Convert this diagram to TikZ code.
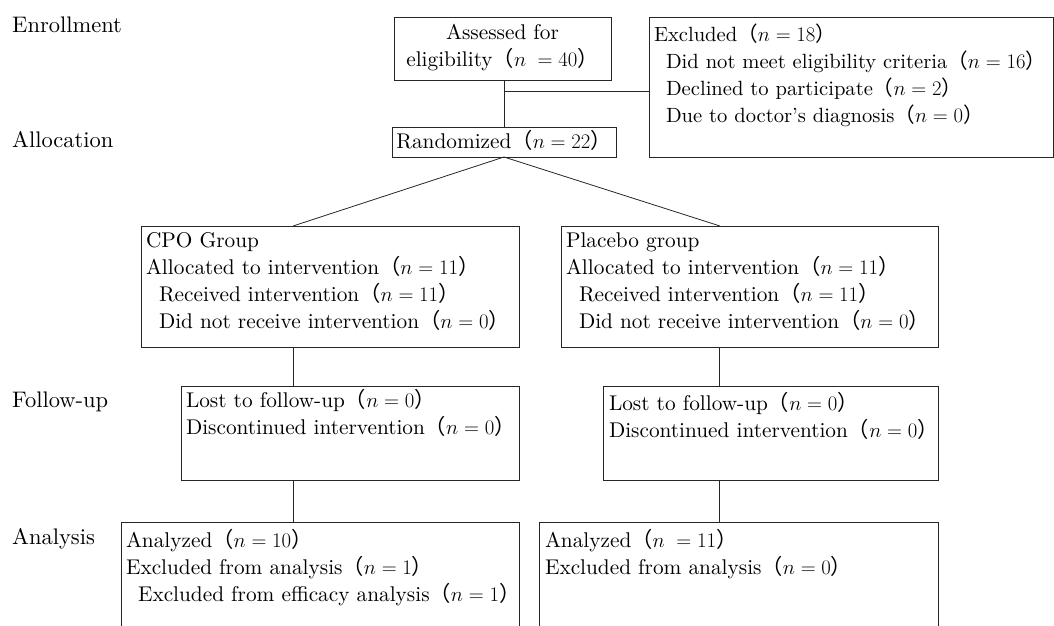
\documentclass[tikz,border=0pt]{standalone}
\usepackage{fontspec}
\setmainfont{lmroman10-regular}[Extension=.otf, ItalicFont=lmroman10-italic, BoldFont=lmroman10-bold]
\newfontfamily\cjk{Noto Sans CJK JP}
\newcommand{\lp}{{\cjk （}}
\newcommand{\rp}{{\cjk ）}}
\newcommand{\bx}[5]{\parbox[c][#2pt][t]{#1pt}{\fontsize{21.3}{27}\selectfont\raggedright\leftskip=#4pt\vspace*{#3pt}\strut #5}}
\newcommand{\ind}{\hspace*{13pt}}
\tikzset{
  frame/.style={draw=black!85, line width=0.8pt, inner sep=0pt, outer sep=0pt, anchor=north west},
  conn/.style={draw=black!85, line width=0.8pt},
  lab/.style={anchor=west, inner sep=0pt, font=\fontsize{22.5}{24}\selectfont}
}
\begin{document}
\begin{tikzpicture}[x=1pt,y=-1pt]
\useasboundingbox (0,0) rectangle (1054,625);
\clip (0,0) rectangle (1054,625);
% stage labels
\node[lab] (enr) at (12,25) {Enrollment};
\node[lab] (alc) at (12,140) {Allocation};
\node[lab] (flw) at (12,402) {Follow-up};
\node[lab] (ana) at (12,539) {Analysis};
% boxes
\node[frame] (asse) at (394,17) {\parbox[c][63pt][t]{217pt}{\fontsize{21.3}{25}\selectfont\centering\vspace*{5pt}\strut Assessed for\\ eligibility\lp $n\;=40$\rp}};
\node[frame] (excl) at (649,17) {\bx{404}{140}{6}{5}{\fontsize{20.6}{27}\selectfont\mbox{Excluded\lp$n=18$\rp}\\
  \mbox{\hspace*{12pt}Did not meet eligibility criteria\lp$n=16$\rp}\\
  \mbox{\hspace*{12pt}Declined to participate\lp$n=2$\rp}\\
  \mbox{\hspace*{12pt}Due to doctor's diagnosis\lp$n=0$\rp}}};
\node[frame] (rand) at (392,127) {\parbox[c][30pt][t]{224pt}{\fontsize{21.3}{25}\selectfont\centering\vspace*{3.5pt}\strut Randomized\lp$n=22$\rp}};
\node[frame] (cpo) at (141,226) {\bx{378}{121}{3}{5}{\mbox{CPO Group}\\
  \mbox{Allocated to intervention\lp$n=11$\rp}\\
  \mbox{\ind Received intervention\lp$n=11$\rp}\\
  \mbox{\ind Did not receive intervention\lp$n=0$\rp}}};
\node[frame] (plc) at (561,226) {\bx{377}{121}{3}{5}{\mbox{Placebo group}\\
  \mbox{Allocated to intervention\lp$n=11$\rp}\\
  \mbox{\ind Received intervention\lp$n=11$\rp}\\
  \mbox{\ind Did not receive intervention\lp$n=0$\rp}}};
\node[frame] (fu1) at (181,386) {\bx{338}{94}{3}{5}{\mbox{Lost to follow-up\lp$n=0$\rp}\\
  \mbox{Discontinued intervention\lp$n=0$\rp}}};
\node[frame] (fu2) at (603,386) {\bx{335}{94}{6}{6}{\mbox{Lost to follow-up\lp$n=0$\rp}\\
  \mbox{Discontinued intervention\lp$n=0$\rp}}};
\node[frame] (an1) at (121,522) {\bx{398}{110}{7}{5}{\mbox{Analyzed\lp$n=10$\rp}\\
  \mbox{Excluded from analysis\lp$n=1$\rp}\\
  \mbox{\hspace*{12pt}Excluded from efficacy analysis\lp$n=1$\rp}}};
\node[frame] (an2) at (539,522) {\bx{399}{110}{7}{6}{\mbox{Analyzed\lp$n\;=11$\rp}\\
  \mbox{Excluded from analysis\lp$n=0$\rp}}};
% connectors
\coordinate (cl) at (293,0);
\coordinate (cr) at (719,0);
\coordinate (j) at (504,91);
\draw[conn] (asse.south -| rand.north) -- (rand.north);
\draw[conn] (j) -- (j -| excl.west);
\draw[conn] (rand.south) -- ([xshift=152pt]cpo.north west);
\draw[conn] (rand.south) -- ([xshift=159pt]plc.north west);
\draw[conn] (cpo.south -| cl) -- (fu1.north -| cl);
\draw[conn] (fu1.south -| cl) -- (an1.north -| cl);
\draw[conn] (plc.south -| cr) -- (fu2.north -| cr);
\draw[conn] (fu2.south -| cr) -- (an2.north -| cr);
\end{tikzpicture}
\end{document}
